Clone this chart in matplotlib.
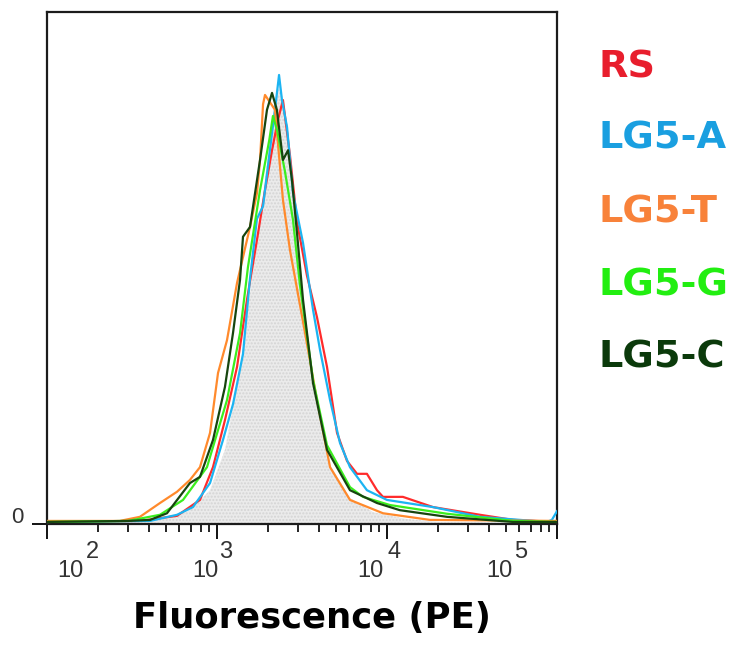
import numpy as np
import matplotlib.pyplot as plt

# fluorescence (PE) values and counts (% of axis height)
rs_x = [100, 352, 582, 794, 947, 1114, 1312, 1501, 1718, 1916, 2107, 2283, 2443, 2687, 2956, 3383, 3873,
        4436, 5082, 5821, 6663, 7620, 8730, 9470, 12400, 18660, 35240, 55080, 100000]
rs_y = [0.4, 0.6, 1.6, 4.7, 11.1, 20.3, 30.7, 43.8, 55.5, 65.2, 73.0, 78.9, 82.8, 72.0, 59.0, 48.5, 40.4,
        30.7, 17.8, 12.3, 9.8, 9.8, 6.6, 5.3, 5.3, 3.3, 1.8, 0.8, 0.4]

a_x = [100, 404, 582, 722, 910, 1084, 1242, 1422, 1563, 1718, 1866, 2050, 2193, 2317, 2411, 2582, 2799,
       3206, 3673, 4036, 4624, 5292, 6058, 7620, 10000, 18660, 35240, 87300, 93300, 100000]
a_y = [0.4, 0.6, 1.8, 3.3, 8.0, 16.4, 23.4, 33.2, 47.9, 59.6, 62.1, 73.2, 80.9, 87.7, 82.8, 77.5, 64.6,
       54.9, 41.8, 34.0, 24.2, 15.8, 11.1, 6.6, 4.7, 3.3, 1.4, 0.4, 0.8, 2.5]

t_x = [100, 268, 352, 462, 582, 693, 794, 910, 1014, 1145, 1312, 1563, 1718, 1791, 1866, 1916, 2193,
       2443, 2687, 3296, 3873, 4624, 6058, 9470, 17900, 100000]
t_y = [0.6, 0.6, 1.4, 4.1, 6.3, 8.6, 11.1, 17.8, 29.5, 35.9, 47.1, 58.0, 64.6, 71.0, 82.0, 83.8, 80.9,
       63.3, 53.5, 37.3, 24.2, 11.1, 4.7, 2.1, 0.8, 0.6]

g_x = [100, 300, 462, 631, 873, 1145, 1366, 1521, 1791, 2030, 2134, 2260, 2512, 2799, 3075, 3673, 4436,
       6058, 7219, 10420, 22540, 55080, 100000]
g_y = [0.4, 0.6, 1.8, 4.7, 11.1, 24.2, 37.3, 50.2, 65.2, 75.0, 79.7, 76.8, 68.8, 59.4, 46.7, 28.1, 15.4,
       7.2, 5.3, 3.7, 2.0, 0.6, 0.4]

c_x = [100, 300, 404, 508, 693, 794, 947, 1114, 1242, 1366, 1422, 1563, 1791, 1968, 2107, 2250, 2443,
       2618, 2760, 2956, 3206, 3673, 4436, 6058, 8730, 11900, 22540, 55080, 100000]
c_y = [0.4, 0.6, 0.8, 2.1, 8.0, 9.2, 16.4, 26.8, 37.3, 47.7, 56.1, 58.0, 71.1, 80.9, 84.2, 80.9, 71.1,
       73.0, 67.2, 56.8, 43.8, 27.5, 14.5, 6.6, 4.1, 2.7, 1.4, 0.4, 0.4]

fill_x = [100, 352, 529, 693, 910, 1114, 1366, 1660, 1916, 2193, 2350, 2512, 2799, 3296, 3873, 4624,
          6058, 8300, 13000, 20000, 100000]
fill_y = [0.2, 0.4, 1.2, 2.7, 6.6, 14.5, 30.1, 51.6, 67.2, 82.8, 85.7, 80.9, 63.3, 37.9, 24.2, 11.5,
          5.1, 2.3, 1.0, 0.4, 0.2]

names = ['RS', 'LG5-A', 'LG5-T', 'LG5-G', 'LG5-C']
line_colors = ['#ff2b2b', '#1cb4f2', '#ff8a2c', '#3bee1e', '#17450f']
text_colors = ['#e81e2d', '#1a9fe0', '#f8823a', '#22ee11', '#0b3a0b']

# tick label placement (fluorescence value where each "10" / exponent starts)
dec_exp = ['2', '3', '4', '5']
dec_base_at = [114.5, 712, 6668, 38190]
dec_exp_at = [169.5, 1028, 10000, 55830]

plt.rcParams['font.family'] = ['Liberation Sans', 'DejaVu Sans']

fig = plt.figure(figsize=(7.3, 6.45), dpi=100)
ax = fig.add_axes([47 / 730, 1 - 524 / 645, 510 / 730, 512 / 645])

ax.fill_between(fill_x, fill_y, 0, facecolor='#ebebeb', edgecolor='#d4d4d4', hatch='.....', lw=0, zorder=1)
series = [(rs_x, rs_y), (a_x, a_y), (t_x, t_y), (g_x, g_y), (c_x, c_y)]
for (xs, ys), col in zip(series, line_colors):
    ax.plot(xs, ys, color=col, lw=1.6, zorder=3)

ax.set_xscale('log')
ax.set_xlim(100, 100000)
ax.set_ylim(0, 100)

for sp in ax.spines.values():
    sp.set_color('#1c1c1c')
    sp.set_linewidth(1.6)

ax.tick_params(axis='x', which='major', direction='out', length=11, width=1.3, color='black', labelbottom=False)
ax.tick_params(axis='x', which='minor', direction='out', length=5.5, width=1.2, color='black', labelbottom=False)
ax.set_yticks([0])
ax.tick_params(axis='y', direction='out', length=11, width=1.3, color='black', labelleft=False)

for e, xb, xe in zip(dec_exp, dec_base_at, dec_exp_at):
    ax.annotate('10', xy=(xb, 0), xycoords=('data', 'axes fraction'), xytext=(0, -38.2),
                textcoords='offset points', ha='left', va='baseline', fontsize=17, color='#333333')
    ax.annotate(e, xy=(xe, 0), xycoords=('data', 'axes fraction'), xytext=(0, -24.5),
                textcoords='offset points', ha='left', va='baseline', fontsize=17, color='#333333')
ax.annotate('0', xy=(100, 0), xycoords=('data', 'axes fraction'), xytext=(-21.2, 0.5),
            textcoords='offset points', ha='center', va='baseline', fontsize=16, color='#333333')

fig.text(312 / 730, 1 - 628 / 645, 'Fluorescence (PE)', ha='center', va='baseline',
         fontsize=25.5, fontweight='bold', family='DejaVu Sans', color='black')

label_base = [77, 148, 222, 296, 367]
for name, col, yb in zip(names, text_colors, label_base):
    fig.text(598 / 730, 1 - yb / 645, name, ha='left', va='baseline', fontsize=27.5,
             fontweight='bold', family='DejaVu Sans', color=col)

fig.savefig('out.png', dpi=100)
